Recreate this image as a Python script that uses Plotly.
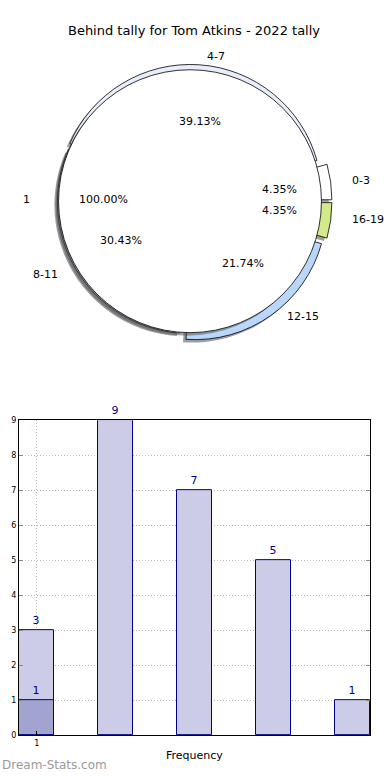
import math
import plotly.graph_objects as go

# ---------------- data ----------------
title_text = "Behind tally for Tom Atkins - 2022 tally"
inner_labels = ["1"]
inner_values = [23]
outer_labels = ["0-3", "4-7", "8-11", "12-15", "16-19"]
outer_values = [1, 9, 7, 5, 1]

bar_x = [1, 2, 3, 4, 5]
bar_y = [3, 9, 7, 5, 1]
overlay_x = [1]
overlay_y = [1]
x_tick_vals = [1]
x_tick_text = ["1"]
y_tick_vals = [0, 1, 2, 3, 4, 5, 6, 7, 8, 9]
x_title = "Frequency"
watermark = "Dream-Stats.com"

# ---------------- style ----------------
W, H = 390, 780
outer_colors = ["#ffffff", "#e6eefc", "#c9d6ee", "#bad7fb", "#d3ea8a"]
outer_pulls = [0.08, 0.04, 0.01, 0.065, 0.08]
inner_colors = ["#ffffff"]
PIE_CX, PIE_CY, PIE_R = 190, 199.5, 133      # pixel geometry of the pie
LBL_CX, LBL_CY, LBL_RX, LBL_RY = 194, 198, 143, 132
SH_DX, SH_DY = -3, 3

def dom(cx, cy, half):
    return dict(x=[(cx - half) / W, (cx + half) / W],
                y=[1 - (cy + half) / H, 1 - (cy - half) / H])

def shade(hexcol):
    h = hexcol.lstrip("#")
    r, g, b = (int(h[i:i + 2], 16) for i in (0, 2, 4))
    return f"rgba({int(r*0.3)},{int(g*0.3)},{int(b*0.3)},0.5)"

fig = go.Figure()
maxpull = max(outer_pulls)
outer_half = PIE_R * (1 + maxpull)
outer_total = sum(outer_values)
# plotly: with counterclockwise direction the first slice ends at `rotation`
# (clockwise from 12 o'clock). Make the first slice start at 3 o'clock.
outer_rotation = 90 - 360.0 * outer_values[0] / outer_total

common = dict(sort=False, direction="counterclockwise",
              textinfo="none", hoverinfo="skip", showlegend=False)

# outer ring shadow
fig.add_trace(go.Pie(labels=outer_labels, values=outer_values, pull=outer_pulls, hole=0.75,
                     rotation=outer_rotation,
                     marker=dict(colors=[shade(c) for c in outer_colors], line=dict(width=0)),
                     domain=dom(PIE_CX + SH_DX, PIE_CY + SH_DY, outer_half), **common))
# outer ring
fig.add_trace(go.Pie(labels=outer_labels, values=outer_values, pull=outer_pulls, hole=0.75,
                     rotation=outer_rotation,
                     marker=dict(colors=outer_colors, line=dict(color="black", width=0.8)),
                     domain=dom(PIE_CX, PIE_CY, outer_half), **common))
# inner pie shadow
fig.add_trace(go.Pie(labels=inner_labels, values=inner_values,
                     marker=dict(colors=[shade(c) for c in inner_colors], line=dict(width=0)),
                     domain=dom(PIE_CX + SH_DX, PIE_CY + SH_DY, PIE_R), **common))
# inner pie
fig.add_trace(go.Pie(labels=inner_labels, values=inner_values,
                     marker=dict(colors=inner_colors, line=dict(color="black", width=0.8)),
                     domain=dom(PIE_CX, PIE_CY, PIE_R), **common))

annotations = []

def pie_labels(labels, values, pulls):
    total = sum(values)
    start = 0.0
    for lab, v, p in zip(labels, values, pulls):
        span = 360.0 * v / total
        mid = math.radians(start + span / 2)
        start += span
        c, s = math.cos(mid), math.sin(mid)
        ox = LBL_CX + p * LBL_RX * c
        oy = LBL_CY - p * LBL_RY * s
        lx = ox + 1.1 * LBL_RX * c
        ly = oy - 1.1 * LBL_RY * s
        annotations.append(dict(x=lx / W, y=1 - ly / H, xref="paper", yref="paper",
                                text=lab, showarrow=False,
                                xanchor="left" if c > 0 else "right", yanchor="middle",
                                font=dict(size=11, color="black")))
        px_ = ox + 0.6 * LBL_RX * c
        py_ = oy - 0.6 * LBL_RY * s
        annotations.append(dict(x=px_ / W, y=1 - py_ / H, xref="paper", yref="paper",
                                text=f"{100.0 * v / total:.2f}%", showarrow=False,
                                xanchor="center", yanchor="middle",
                                font=dict(size=11, color="black")))

pie_labels(outer_labels, outer_values, [0.0, 0.0, 0.0, 0.0, 0.0])
pie_labels(inner_labels, inner_values, [0.03])

# ---------------- bars ----------------
bar_fill = "#ccccE6"
bar_edge = "#00008b"
fig.add_trace(go.Bar(x=bar_x, y=bar_y, width=0.45, text=[str(v) for v in bar_y],
                     textposition="outside", cliponaxis=False,
                     textfont=dict(size=11, color=bar_edge),
                     marker=dict(color=bar_fill, line=dict(color=bar_edge, width=1)),
                     hoverinfo="skip", showlegend=False, xaxis="x", yaxis="y"))
fig.add_trace(go.Bar(x=overlay_x, y=overlay_y, width=0.45, text=[str(v) for v in overlay_y],
                     textposition="outside", cliponaxis=False,
                     textfont=dict(size=11, color=bar_edge),
                     marker=dict(color="#a3a3cf", line=dict(color=bar_edge, width=1)),
                     hoverinfo="skip", showlegend=False, xaxis="x", yaxis="y"))

annotations.append(dict(x=194 / W, y=1 - 760 / H, xref="paper", yref="paper", text=x_title,
                        showarrow=False, xanchor="center", yanchor="middle",
                        font=dict(size=11, color="black")))
annotations.append(dict(x=0, y=1 - 770 / H, xref="paper", yref="paper", text=watermark,
                        showarrow=False, xanchor="left", yanchor="middle",
                        font=dict(size=12, color="#9a9a9a")))

fig.update_layout(
    width=W, height=H,
    margin=dict(l=0, r=0, t=0, b=0),
    paper_bgcolor="white", plot_bgcolor="white",
    font=dict(family="DejaVu Sans", color="black"),
    barmode="overlay", bargap=0,
    title=dict(text=title_text, x=194 / W, xanchor="center", y=1 - 30 / H, yanchor="middle",
               font=dict(size=13, color="black")),
    xaxis=dict(domain=[19 / W, 370 / W], range=[0.775, 5.225], tickvals=x_tick_vals,
               ticktext=x_tick_text, showgrid=True, gridcolor="#b8b8b8", griddash="1px,2px",
               gridwidth=1, showline=True, linecolor="black", linewidth=1, mirror=True,
               ticks="inside", ticklen=4, tickcolor="black", tickfont=dict(size=8),
               zeroline=False, fixedrange=True),
    yaxis=dict(domain=[1 - 740 / H, 1 - 421 / H], range=[0, 9], tickvals=y_tick_vals,
               showgrid=True, gridcolor="#b8b8b8", griddash="1px,2px", gridwidth=1,
               showline=True, linecolor="black", linewidth=1, mirror="ticks",
               ticks="inside", ticklen=4, tickcolor="#888", tickfont=dict(size=8),
               zeroline=False, fixedrange=True),
    annotations=annotations,
)

fig.write_html("out.html", config={"displayModeBar": False},
               post_script="document.body.style.margin='0px';"
                           "document.body.style.overflow='hidden';"
                           "document.documentElement.style.overflow='hidden';")
